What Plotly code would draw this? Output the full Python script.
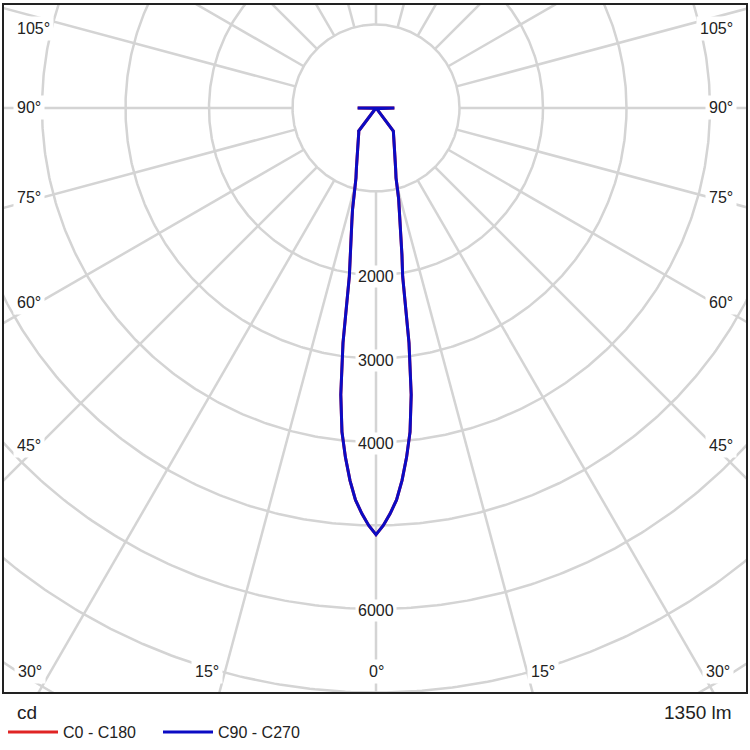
import numpy as np
import plotly.graph_objects as go

# luminous intensity distribution (cd), symmetric
GAMMA = [0, 1, 2, 3, 4, 5, 6, 7, 8, 9, 10, 11, 12, 13, 14, 15, 16, 18, 20,
         22, 25, 30, 35, 37, 40, 45, 60, 75, 85, 90, 95, 105, 120, 135, 150, 165, 180]
I_C0_C180 = [5110, 5000, 4860, 4700, 4470, 4200, 3900, 3460, 2840, 2040, 1790, 1560,
             1390, 1250, 1120, 980, 870, 760, 655, 600, 520, 425, 360, 345, 15, 5,
             0, 0, 60, 220, 0, 0, 0, 0, 0, 0, 0]
I_C90_C270 = [5110, 5000, 4860, 4700, 4470, 4200, 3900, 3460, 2840, 2040, 1790, 1560,
              1390, 1250, 1120, 980, 870, 760, 655, 600, 520, 425, 360, 345, 15, 5,
              0, 0, 60, 220, 0, 0, 0, 0, 0, 0, 0]

CURVE_NAMES = ["C0 - C180", "C90 - C270"]
CURVE_COLORS = ["#e02424", "#0b0bc4"]

GRID_RADII = [1000, 2000, 3000, 4000, 5000, 6000, 7000, 8000, 9000]
GRID_ANGLES = list(range(0, 360, 15))
CD_LABELS = [2000, 3000, 4000, 6000]

FLUX_TEXT = "1350 lm"
UNIT_TEXT = "cd"

FONT = "Liberation Sans, Arial, sans-serif"
GRID_COLOR = "#d4d4d4"
TEXT_COLOR = "#222222"

# plot area in pixels (750x750 page)
ML, MR, MT, MB = 4, 4, 5, 58
W, H = 750, 750
PW, PH = W - ML - MR, H - MT - MB


def px(x, y):
    return (x - ML) / PW, 1 - (y - MT) / PH


def half_curve(gamma, intensity, side):
    g = np.radians(gamma)
    r = np.array(intensity, dtype=float)
    return side * r * np.sin(g), -r * np.cos(g)


def full_curve(gamma, intensity):
    xl, yl = half_curve(gamma, intensity, -1)
    xr, yr = half_curve(gamma, intensity, 1)
    return np.concatenate([xl[::-1], xr]), np.concatenate([yl[::-1], yr])


def label(fig, text, x, y, xanchor="center", size=16, bg=True):
    xp, yp = px(x, y)
    fig.add_annotation(x=xp, y=yp, xref="paper", yref="paper", text=text,
                       xanchor=xanchor, yanchor="middle", showarrow=False,
                       bgcolor="white" if bg else "rgba(0,0,0,0)", borderpad=3,
                       font=dict(family=FONT, size=size, color=TEXT_COLOR))


fig = go.Figure()

# grid circles
t = np.linspace(0, 2 * np.pi, 721)
for r in GRID_RADII:
    fig.add_trace(go.Scatter(x=r * np.cos(t), y=r * np.sin(t), mode="lines",
                             line=dict(color=GRID_COLOR, width=2.5),
                             hoverinfo="skip", showlegend=False))

# radial lines, starting at the first circle
for a in GRID_ANGLES:
    g = np.radians(a)
    fig.add_trace(go.Scatter(x=[1000 * np.sin(g), 12000 * np.sin(g)],
                             y=[-1000 * np.cos(g), -12000 * np.cos(g)],
                             mode="lines", line=dict(color=GRID_COLOR, width=2.5),
                             hoverinfo="skip", showlegend=False))

for name, col, vals in zip(CURVE_NAMES, CURVE_COLORS, [I_C0_C180, I_C90_C270]):
    x, y = full_curve(GAMMA, vals)
    fig.add_trace(go.Scatter(x=x, y=y, mode="lines", name=name,
                             line=dict(color=col, width=3)))

# intensity labels on the 0 deg axis
for v in CD_LABELS:
    fig.add_annotation(x=0, y=-v - 20, text=str(v), showarrow=False,
                       font=dict(family=FONT, size=16, color=TEXT_COLOR),
                       bgcolor="white", borderpad=2)

# angle labels around the frame
side_labels = [("105°", 28), ("90°", 108), ("75°", 197), ("60°", 302), ("45°", 445)]
for txt, yy in side_labels:
    label(fig, txt, 13, yy, xanchor="left")
    label(fig, txt, 737, yy, xanchor="right")

bottom_labels = [("30°", 30), ("15°", 207), ("0°", 376), ("15°", 543), ("30°", 718)]
for txt, xx in bottom_labels:
    label(fig, txt, xx, 671)

label(fig, UNIT_TEXT, 13, 712, xanchor="left", size=19, bg=False)
label(fig, FLUX_TEXT, 736, 712, xanchor="right", size=19, bg=False)

scale = 83.5 / 1000  # px per cd
cx, cy = 376, 108
xr = [(ML - cx) / scale, (W - MR - cx) / scale]
yr = [-(H - MB - cy) / scale, (cy - MT) / scale]

lx, ly = px(3, 732)
fig.update_layout(
    width=W, height=H,
    margin=dict(l=ML, r=MR, t=MT, b=MB, autoexpand=False),
    paper_bgcolor="white", plot_bgcolor="white",
    xaxis=dict(range=xr, showgrid=False, zeroline=False, showticklabels=False,
               showline=True, mirror=True, linecolor="#222222", linewidth=2, ticks=""),
    yaxis=dict(range=yr, showgrid=False, zeroline=False, showticklabels=False,
               showline=True, mirror=True, linecolor="#222222", linewidth=2, ticks=""),
    legend=dict(orientation="h", x=lx, y=ly, xanchor="left", yanchor="middle",
                font=dict(family=FONT, size=16, color=TEXT_COLOR),
                itemwidth=50, entrywidth=90, entrywidthmode="pixels",
                bgcolor="rgba(0,0,0,0)"),
    showlegend=True,
)

fig.write_html("out.html", config={"displayModeBar": False},
               post_script="document.body.style.margin='0';")
